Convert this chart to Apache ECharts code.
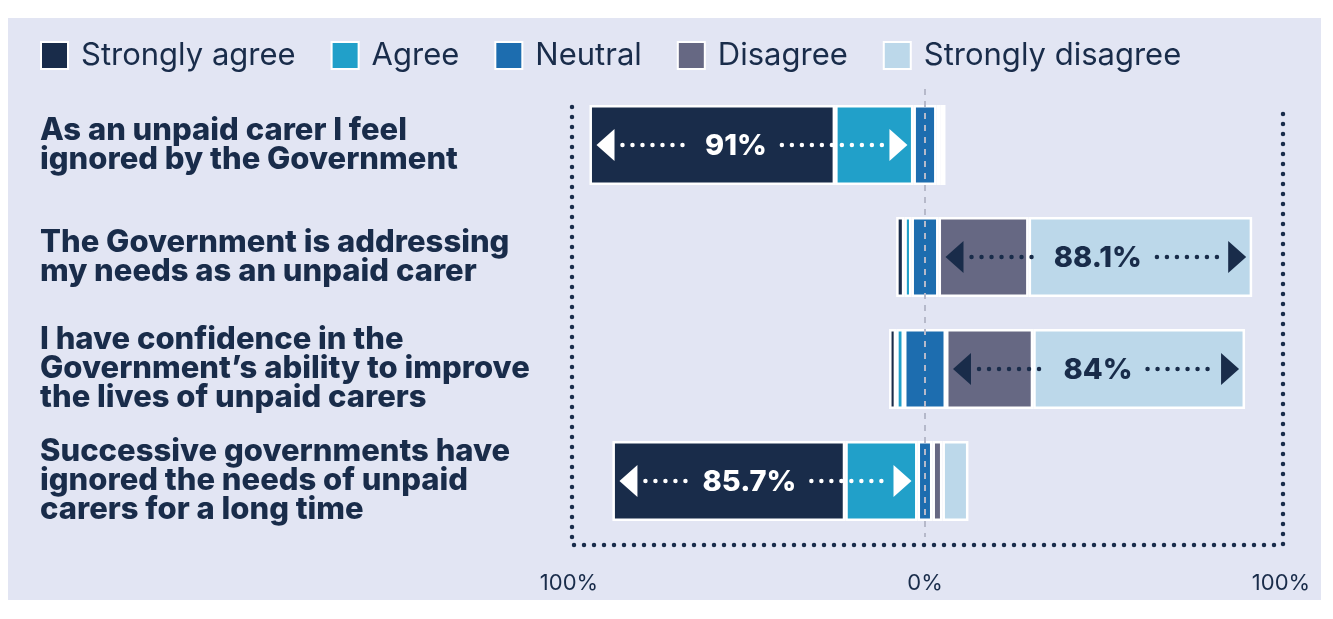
<!DOCTYPE html>
<html><head><meta charset="utf-8">
<script src="https://cdn.jsdelivr.net/npm/echarts@6/dist/echarts.min.js"></script>
<style>html,body{margin:0;padding:0;background:#fff}#c{width:1333px;height:619px}</style>
</head><body><div id="c"></div>
<script>
const categories = [
  'As an unpaid carer I feel\nignored by the Government',
  'The Government is addressing\nmy needs as an unpaid carer',
  'I have confidence in the\nGovernment\u2019s ability to improve\nthe lives of unpaid carers',
  'Successive governments have\nignored the needs of unpaid\ncarers for a long time'
];
const stronglyAgree    = [69.0, 2.3, 2.0, 65.4];
const agree            = [22.0, 2.0, 2.2, 20.3];
const neutral          = [6.5, 7.6, 11.8, 4.2];
const disagree         = [1.2, 25.3, 24.5, 2.8];
const stronglyDisagree = [1.3, 62.8, 59.5, 7.3];
const annotationSide   = ['agree', 'disagree', 'disagree', 'agree'];
const annotationLabels = ['91%', '88.1%', '84%', '85.7%'];
const seriesNames = ['Strongly agree', 'Agree', 'Neutral', 'Disagree', 'Strongly disagree'];
const axisTicks = [-100, 0, 100];

const NAVY = '#192c4a';
const colors = {
  'Strongly agree': '#192c4a',
  'Agree': '#21a0c9',
  'Neutral': '#1d6daf',
  'Disagree': '#666883',
  'Strongly disagree': '#bcd8ea'
};
const FONT = 'Inter, "Noto Sans", sans-serif';

const offsets = categories.map((_, i) => -(stronglyAgree[i] + agree[i] + neutral[i] / 2));
const annData = categories.map((_, i) => {
  if (annotationSide[i] === 'agree') {
    return [i, offsets[i], -neutral[i] / 2];
  }
  return [i, neutral[i] / 2, neutral[i] / 2 + disagree[i] + stronglyDisagree[i]];
});

const measureCtx = document.createElement('canvas').getContext('2d');
function textWidth(t, font) { measureCtx.font = font; return measureCtx.measureText(t).width; }

const barBase = {
  type: 'bar', stack: 'total', stackStrategy: 'all', barWidth: 80,
  itemStyle: { borderColor: '#ffffff', borderWidth: 2.5 },
  emphasis: { disabled: true }
};

const chart = echarts.init(document.getElementById('c'), null, { renderer: 'canvas' });

const labelFont = '800 29px ' + FONT;

const option = {
  animation: false,
  backgroundColor: 'transparent',
  legend: {
    data: seriesNames,
    left: 40, top: 40, padding: 0,
    icon: 'rect', itemWidth: 27, itemHeight: 27, itemGap: 35,
    textStyle: { color: NAVY, fontSize: 31, fontFamily: FONT, padding: [3, 0, 0, 8] },
    selectedMode: false
  },
  grid: { left: 569, right: 52, top: 89, bottom: 82 },
  xAxis: {
    type: 'value', min: axisTicks[0], max: axisTicks[2], interval: 100,
    splitLine: { show: false }, axisLine: { show: false }, axisTick: { show: false },
    axisLabel: {
      color: NAVY, fontSize: 22, fontFamily: FONT, margin: 35,
      showMinLabel: true, showMaxLabel: true,
      formatter: v => Math.abs(v) + '%'
    }
  },
  yAxis: {
    type: 'category', data: categories, inverse: true,
    axisLine: { show: false }, axisTick: { show: false },
    axisLabel: {
      align: 'left', margin: 529, color: NAVY, fontSize: 31, fontWeight: 800,
      fontFamily: FONT, lineHeight: 29, padding: [19, 0, 0, 0]
    }
  },
  series: [
    Object.assign({}, barBase, {
      name: 'offset', data: offsets, z: 1, silent: true,
      itemStyle: { color: 'rgba(0,0,0,0)', borderWidth: 0 },
      markLine: {
        silent: true, symbol: 'none', label: { show: false },
        lineStyle: { color: '#b6b9ca', type: [6, 6], width: 2 },
        data: [{ xAxis: 0 }]
      }
    }),
    Object.assign({}, barBase, { name: 'Strongly agree', data: stronglyAgree, itemStyle: Object.assign({}, barBase.itemStyle, { color: colors['Strongly agree'] }) }),
    Object.assign({}, barBase, { name: 'Agree', data: agree, itemStyle: Object.assign({}, barBase.itemStyle, { color: colors['Agree'] }) }),
    Object.assign({}, barBase, { name: 'Neutral', data: neutral, itemStyle: Object.assign({}, barBase.itemStyle, { color: colors['Neutral'] }) }),
    Object.assign({}, barBase, { name: 'Disagree', data: disagree, itemStyle: Object.assign({}, barBase.itemStyle, { color: colors['Disagree'] }) }),
    Object.assign({}, barBase, { name: 'Strongly disagree', data: stronglyDisagree, itemStyle: Object.assign({}, barBase.itemStyle, { color: colors['Strongly disagree'] }) }),
    {
      type: 'custom', name: 'annotations', z: 10, silent: true,
      data: annData,
      encode: { x: [1, 2], y: 0 },
      renderItem: function (params, api) {
        const i = params.dataIndex;
        const cat = api.value(0);
        const a = api.coord([api.value(1), cat]);
        const b = api.coord([api.value(2), cat]);
        const y = a[1];
        const x0 = a[0] + 7, x1 = b[0] - 6;
        const isAgree = annotationSide[i] === 'agree';
        const col = isAgree ? '#ffffff' : NAVY;
        const label = annotationLabels[i];
        const tw = textWidth(label, labelFont);
        const cx = (x0 + x1) / 2 + (isAgree ? -16 : 2);
        const aw = 18, ah = 16;
        const gap = 15;
        const dotStyle = { stroke: col, lineWidth: 4.5, lineDash: [0, 10], lineCap: 'round' };
        return {
          type: 'group',
          children: [
            { type: 'polygon', shape: { points: [[x0, y], [x0 + aw, y - ah], [x0 + aw, y + ah]] }, style: { fill: col } },
            { type: 'polygon', shape: { points: [[x1, y], [x1 - aw, y - ah], [x1 - aw, y + ah]] }, style: { fill: col } },
            { type: 'line', shape: { x1: x0 + aw + 8, y1: y, x2: cx - tw / 2 - gap, y2: y }, style: dotStyle },
            { type: 'line', shape: { x1: cx + tw / 2 + gap, y1: y, x2: x1 - aw - 6, y2: y }, style: dotStyle },
            { type: 'text', style: { text: label, x: cx, y: y + 1, align: 'center', verticalAlign: 'middle', fill: col, font: labelFont } }
          ]
        };
      }
    }
  ]
};
chart.setOption(option);

const xl = chart.convertToPixel({ xAxisIndex: 0 }, axisTicks[0]);
const xr = chart.convertToPixel({ xAxisIndex: 0 }, axisTicks[2]);
chart.setOption({
  graphic: [
    { type: 'rect', z: -100, shape: { x: 8, y: 18, width: 1313, height: 582 }, style: { fill: '#e2e5f3' }, silent: true },
    { type: 'polyline', z: -50, silent: true,
      shape: { points: [[xl + 3, 107], [xl + 3, 545], [xr + 2, 545], [xr + 2, 107]] },
      style: { stroke: NAVY, lineWidth: 4.5, lineDash: [0, 10], lineCap: 'round', fill: null } }
  ]
});
</script>
</body></html>
